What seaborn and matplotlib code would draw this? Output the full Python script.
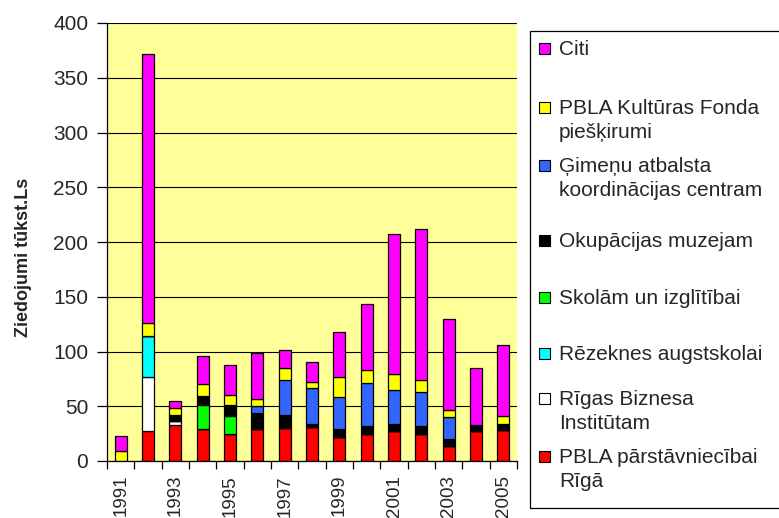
import numpy as np
import seaborn as sns
import matplotlib.pyplot as plt
from matplotlib.patches import Rectangle

# donations per year, thousand Ls
years = list(range(1991, 2006))
pbla_riga = [0, 27, 33, 29, 25, 29, 30, 31, 22, 25, 27, 25, 14, 27, 28]
rigas_biznesa = [0, 50, 3.5, 0, 0, 0, 0, 0, 0, 0, 0, 0, 0, 0, 0]
rezeknes = [0, 37, 0, 0, 0, 0, 0, 0, 0, 0, 0, 0, 0, 0, 0]
skolam = [0, 0, 0, 22, 16, 1.5, 0, 0, 0, 0, 0, 0, 0, 0, 0]
okupacijas = [0, 0, 5.5, 8.5, 10, 13, 12, 3, 7, 7, 7, 7, 6, 5.5, 6]
gimenu = [0, 0, 0, 0, 0, 6.5, 32, 33, 29, 39, 31, 31, 20, 0, 0]
kulturas = [9, 12, 6, 10.5, 9, 6.5, 10.5, 5, 18.5, 12.5, 14, 11, 7, 0, 7]
citi = [14, 246, 7, 26, 28, 42, 16.5, 18.5, 41, 60, 128.5, 138, 83, 52, 64.5]

# stacking order, bottom to top
series = [pbla_riga, rigas_biznesa, rezeknes, skolam, okupacijas, gimenu, kulturas, citi]
labels = [
    "PBLA pārstāvniecībai\nRīgā",
    "Rīgas Biznesa\nInstitūtam",
    "Rēzeknes augstskolai",
    "Skolām un izglītībai",
    "Okupācijas muzejam",
    "Ģimeņu atbalsta\nkoordinācijas centram",
    "PBLA Kultūras Fonda\npiešķirumi",
    "Citi",
]
colors = ["#FF0000", "#FFFFFF", "#00FFFF", "#00FF00", "#000000", "#3366FF", "#FFFF00", "#FF00FF"]

sns.set_theme(style="ticks")
plt.rcParams["font.family"] = ["Liberation Sans", "DejaVu Sans"]

W, H = 779, 518


def fx(px):
    return px / W


def fy(py):
    return 1 - py / H


fig = plt.figure(figsize=(W / 100, H / 100), dpi=100)
ax = fig.add_axes([fx(107), fy(461), 410 / W, 438 / H])
ax.set_facecolor("#FFFF99")

year_labels = [str(y) for y in years]
bottom = np.zeros(len(years))
for values, color in zip(series, colors):
    sns.barplot(x=year_labels, y=values, bottom=bottom.copy(), color=color,
                saturation=1, width=0.45, edgecolor="black", linewidth=0.9,
                errorbar=None, ax=ax)
    bottom += np.array(values)

ax.set_xlim(-0.5, len(years) - 0.5)
ax.set_ylim(0, 400)
ax.set_yticks(range(0, 401, 50))
ax.set_xticks(range(0, len(years), 2))
ax.set_xticklabels(year_labels[::2], rotation=90, fontsize=13.5)
ax.set_xticks(np.arange(-0.5, len(years), 1), minor=True)
ax.tick_params(axis="x", which="major", length=0, pad=10)
ax.tick_params(axis="x", which="minor", length=6, width=0.9, color="black", direction="out")
ax.tick_params(axis="y", length=7, width=0.9, color="black", pad=6.5, labelsize=15)

ax.yaxis.grid(True, color="black", linewidth=0.8)
ax.xaxis.grid(False)
ax.set_axisbelow(True)
for side in ["top", "right"]:
    ax.spines[side].set_visible(False)
for side in ["left", "bottom"]:
    ax.spines[side].set_color("black")
    ax.spines[side].set_linewidth(0.9)

ax.set_xlabel("")
ax.set_ylabel("Ziedojumi tūkst.Ls", fontsize=13, fontweight="bold")
ax.yaxis.set_label_coords(-0.183, 0.466)

# legend drawn by hand so every entry gets the same slot like in the original
fig.patches.append(Rectangle((fx(530), fy(508)), (790 - 530) / W, (508 - 31) / H,
                             transform=fig.transFigure, fill=False,
                             edgecolor="black", linewidth=0.9))
first_line_y = [48, 107, 165, 240, 297, 353, 398, 456]
for y0, label, color in zip(first_line_y, labels[::-1], colors[::-1]):
    fig.patches.append(Rectangle((fx(539), fy(y0 + 5.5)), 11 / W, 11 / H,
                                 transform=fig.transFigure, facecolor=color,
                                 edgecolor="black", linewidth=0.8))
    for k, line in enumerate(label.split("\n")):
        fig.text(fx(559), fy(y0 + 7 + 24 * k), line, fontsize=15,
                 ha="left", va="baseline")

fig.savefig("out.png", dpi=100)
